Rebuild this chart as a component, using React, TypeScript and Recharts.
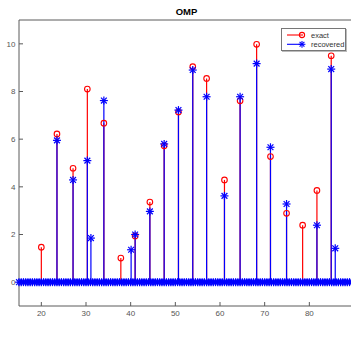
import { ComposedChart, Scatter, ErrorBar, XAxis, YAxis, ReferenceLine, Legend } from 'recharts';

// support positions
const stemX = [20, 23.5, 27.1, 30.3, 31.1, 34.0, 37.8, 40.1, 41.0, 44.3, 47.5, 50.7, 53.9, 57.0, 61.0, 64.5, 68.2, 71.3, 74.9, 78.5, 81.7, 84.9, 85.8];
const exactVals = [1.47, 6.22, 4.78, 8.1, 0, 6.67, 1.01, 0, 1.94, 3.36, 5.72, 7.14, 9.04, 8.55, 4.29, 7.61, 9.98, 5.27, 2.89, 2.39, 3.85, 9.5, 0];
const recoveredVals = [0, 5.95, 4.29, 5.1, 1.85, 7.62, 0, 1.36, 2.0, 2.97, 5.8, 7.22, 8.9, 7.78, 3.62, 7.78, 9.17, 5.66, 3.28, 0, 2.39, 8.94, 1.42];

// samples where the recovered signal is zero (the solid band on the baseline)
const zeroX = [
  15, 15.5, 16, 16.5, 17, 17.5, 18, 18.5, 19, 19.5, 20, 20.5, 21, 21.5, 22, 22.5, 23, 23.5, 24, 24.5,
  25, 25.5, 26, 26.5, 27, 27.5, 28, 28.5, 29, 29.5, 30, 30.5, 31, 31.5, 32, 32.5, 33, 33.5, 34, 34.5,
  35, 35.5, 36, 36.5, 37, 37.5, 38, 38.5, 39, 39.5, 40, 40.5, 41, 41.5, 42, 42.5, 43, 43.5, 44, 44.5,
  45, 45.5, 46, 46.5, 47, 47.5, 48, 48.5, 49, 49.5, 50, 50.5, 51, 51.5, 52, 52.5, 53, 53.5, 54, 54.5,
  55, 55.5, 56, 56.5, 57, 57.5, 58, 58.5, 59, 59.5, 60, 60.5, 61, 61.5, 62, 62.5, 63, 63.5, 64, 64.5,
  65, 65.5, 66, 66.5, 67, 67.5, 68, 68.5, 69, 69.5, 70, 70.5, 71, 71.5, 72, 72.5, 73, 73.5, 74, 74.5,
  75, 75.5, 76, 76.5, 77, 77.5, 78, 78.5, 79, 79.5, 80, 80.5, 81, 81.5, 82, 82.5, 83, 83.5, 84, 84.5,
  85, 85.5, 86, 86.5, 87, 87.5, 88, 88.5, 89, 89.5, 90,
];

const xTicks = [20, 30, 40, 50, 60, 70, 80];
const yTicks = [0, 2, 4, 6, 8, 10];

const RED = '#ff0000';
const BLUE = '#0000ff';
const AXIS = '#5a5a5a';
const FONT = '"Liberation Sans", Arial, sans-serif';

const toStems = (vals: number[]) =>
  stemX
    .map((x, i) => ({ x, y: vals[i], err: [vals[i], 0] }))
    .filter((p) => p.y !== 0);

const exactPts = toStems(exactVals);
const recoveredPts = toStems(recoveredVals);
const zeroPts = zeroX.map((x) => ({ x, y: 0 }));

const Circle = (props: any) => (
  <circle cx={props.cx} cy={props.cy} r={2.8} fill="none" stroke={RED} strokeWidth={1.1} />
);

const Asterisk = (props: any) => {
  const { cx, cy } = props;
  const r = 4;
  const d = 2.9;
  return (
    <g stroke={BLUE} strokeWidth={1.2}>
      <line x1={cx - r} y1={cy} x2={cx + r} y2={cy} />
      <line x1={cx} y1={cy - r} x2={cx} y2={cy + r} />
      <line x1={cx - d} y1={cy - d} x2={cx + d} y2={cy + d} />
      <line x1={cx - d} y1={cy + d} x2={cx + d} y2={cy - d} />
    </g>
  );
};

const renderLegend = () => (
  <div
    style={{
      width: 63,
      height: 21,
      border: '1px solid #777',
      boxShadow: '1px 1px 0 #bbb',
      background: '#fff',
      fontFamily: FONT,
      fontSize: 7.5,
      color: '#333',
      position: 'relative',
    }}
  >
    <svg width={24} height={21} style={{ position: 'absolute', left: 0, top: 0 }}>
      <line x1={5} y1={6} x2={21} y2={6} stroke={RED} strokeWidth={1.1} />
      <circle cx={20} cy={6} r={2.6} fill="none" stroke={RED} strokeWidth={1.1} />
      <line x1={5} y1={15.3} x2={21} y2={15.3} stroke={BLUE} strokeWidth={1.1} />
      <g stroke={BLUE} strokeWidth={1.1}>
        <line x1={16.6} y1={15.3} x2={23.4} y2={15.3} />
        <line x1={20} y1={11.9} x2={20} y2={18.7} />
        <line x1={17.6} y1={12.9} x2={22.4} y2={17.7} />
        <line x1={17.6} y1={17.7} x2={22.4} y2={12.9} />
      </g>
    </svg>
    <div style={{ position: 'absolute', left: 29, top: 1.5, lineHeight: '9px' }}>exact</div>
    <div style={{ position: 'absolute', left: 29, top: 10.8, lineHeight: '9px' }}>recovered</div>
  </div>
);

export default function App() {
  const tickStyle = { fontSize: 8, fill: '#555', fontFamily: FONT };
  return (
    <div style={{ position: 'fixed', left: 0, top: 0, width: 351, height: 340, overflow: 'hidden', background: '#fff' }}>
      <div
        style={{
          position: 'absolute',
          left: 19,
          top: 7,
          width: 335,
          textAlign: 'center',
          fontFamily: FONT,
          fontWeight: 'bold',
          fontSize: 9.5,
          lineHeight: '9.5px',
          color: '#000',
        }}
      >
        OMP
      </div>
      <ComposedChart width={360} height={340} margin={{ top: 0, right: 0, bottom: 0, left: 0 }}>
        <XAxis
          xAxisId="top"
          orientation="top"
          type="number"
          dataKey="x"
          domain={[15, 90]}
          ticks={xTicks}
          height={20}
          tick={false}
          tickSize={-4}
          stroke={AXIS}
        />
        <XAxis
          type="number"
          dataKey="x"
          domain={[15, 90]}
          ticks={xTicks}
          height={11}
          tickSize={-4}
          tickMargin={8}
          tick={tickStyle}
          stroke={AXIS}
        />
        <YAxis
          type="number"
          dataKey="y"
          domain={[-1, 11]}
          ticks={yTicks}
          width={19}
          tickSize={-4}
          tickMargin={7.5}
          tick={tickStyle}
          stroke={AXIS}
        />
        <YAxis
          yAxisId="right"
          orientation="right"
          type="number"
          domain={[-1, 11]}
          ticks={yTicks}
          width={6}
          tick={false}
          tickSize={-4}
          stroke={AXIS}
        />
        <Scatter name="exact" data={exactPts} shape={Circle} isAnimationActive={false}>
          <ErrorBar dataKey="err" direction="y" width={0} stroke={RED} strokeWidth={1.2} isAnimationActive={false} />
        </Scatter>
        <Scatter name="recovered" data={recoveredPts} shape={Asterisk} isAnimationActive={false}>
          <ErrorBar dataKey="err" direction="y" width={0} stroke={BLUE} strokeWidth={1.2} isAnimationActive={false} />
        </Scatter>
        <Scatter name="zeros" data={zeroPts} shape={Asterisk} legendType="none" isAnimationActive={false} />
        <ReferenceLine y={0} stroke="#1a1a4d" strokeWidth={1} />
        <Legend content={renderLegend} wrapperStyle={{ position: 'absolute', left: 281, top: 28, width: 'auto' }} />
      </ComposedChart>
    </div>
  );
}
